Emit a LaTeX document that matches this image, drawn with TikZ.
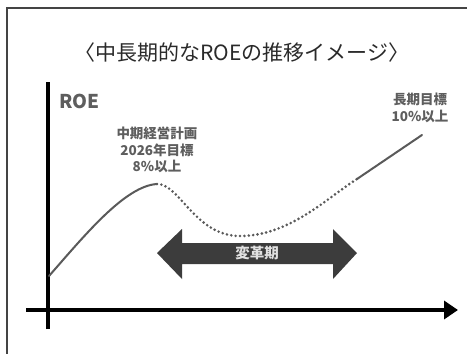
\documentclass[tikz,border=0pt]{standalone}
\usepackage{fontspec}
\newfontfamily\jp{Noto Sans CJK JP}
\usetikzlibrary{arrows.meta}
\definecolor{titlec}{HTML}{2A2A2A}
\definecolor{labc}{HTML}{5E5E5E}
\definecolor{curvec}{HTML}{5A5A5A}
\definecolor{arrc}{HTML}{3C3C3C}
\definecolor{framec}{HTML}{444444}
\tikzset{
  frameline/.style={draw=framec, line width=1.2pt},
  axisline/.style={draw=black, line width=4pt},
  solidcurve/.style={draw=curvec, line width=2pt, line cap=round},
  dotcurve/.style={draw=curvec, line width=2.9pt, line cap=round, dash pattern=on 0pt off 4.4pt},
  lab/.style={font=\jp\bfseries\fontsize{13.5}{16.5}\selectfont, text=labc, align=center, inner sep=0pt},
}
\begin{document}
\begin{tikzpicture}[x=1pt,y=-1pt]
\useasboundingbox (0,0) rectangle (467,354);
\fill[white] (0,0) rectangle (467,354);
% frame (left and top edges)
\coordinate (fbl) at (7,354);
\coordinate (ftl) at (7,8);
\coordinate (ftr) at (467,8);
\draw[frameline] (fbl) -- (ftl) -- (ftr);
% title
\node[font=\jp\fontsize{21}{24}\selectfont, text=titlec, inner sep=0pt] (title) at (242,53) {〈中長期的なROEの推移イメージ〉};
% axes
\coordinate (ytop) at (48,82);
\coordinate (ybot) at (48,329);
\coordinate (xl) at (26,310);
\coordinate (xr) at (458,310);
\draw[axisline] (ybot) -- (ytop);
\draw[axisline, -{Triangle[length=14pt,width=18pt]}] (xl) -- (xr);
% labels
\node[font=\jp\bfseries\fontsize{19}{21}\selectfont, text=labc, inner sep=0pt] (roe) at (79.5,101) {ROE};
\node[lab] (mid) at (157,150) {中期経営計画\\2026年目標\\8\%以上};
\node[lab] (long) at (420,108) {長期目標\\10\%以上};
% curve
\coordinate (c0) at (49,276);
\coordinate (peak) at (157,184);
\coordinate (vmin) at (240,236);
\coordinate (c3) at (357,179);
\coordinate (c4) at (422,135);
\draw[solidcurve] (c0) .. controls (85,235) and (125,186) .. (peak);
\draw[dotcurve] (peak) .. controls (180,184) and (195,236) .. (vmin)
  .. controls (290,236) and (328,197) .. (c3);
\draw[solidcurve] (c3) -- (c4);
% double arrow
\fill[arrc] (157,253) -- (182,229) -- (182,243) -- (333,243) -- (333,229) -- (357,253)
  -- (333,279) -- (333,264) -- (182,264) -- (182,279) -- cycle;
\node[font=\jp\bfseries\fontsize{14.5}{16}\selectfont, text=white!88!black, inner sep=0pt] (henkaku) at (257,253) {変革期};
\end{tikzpicture}
\end{document}
